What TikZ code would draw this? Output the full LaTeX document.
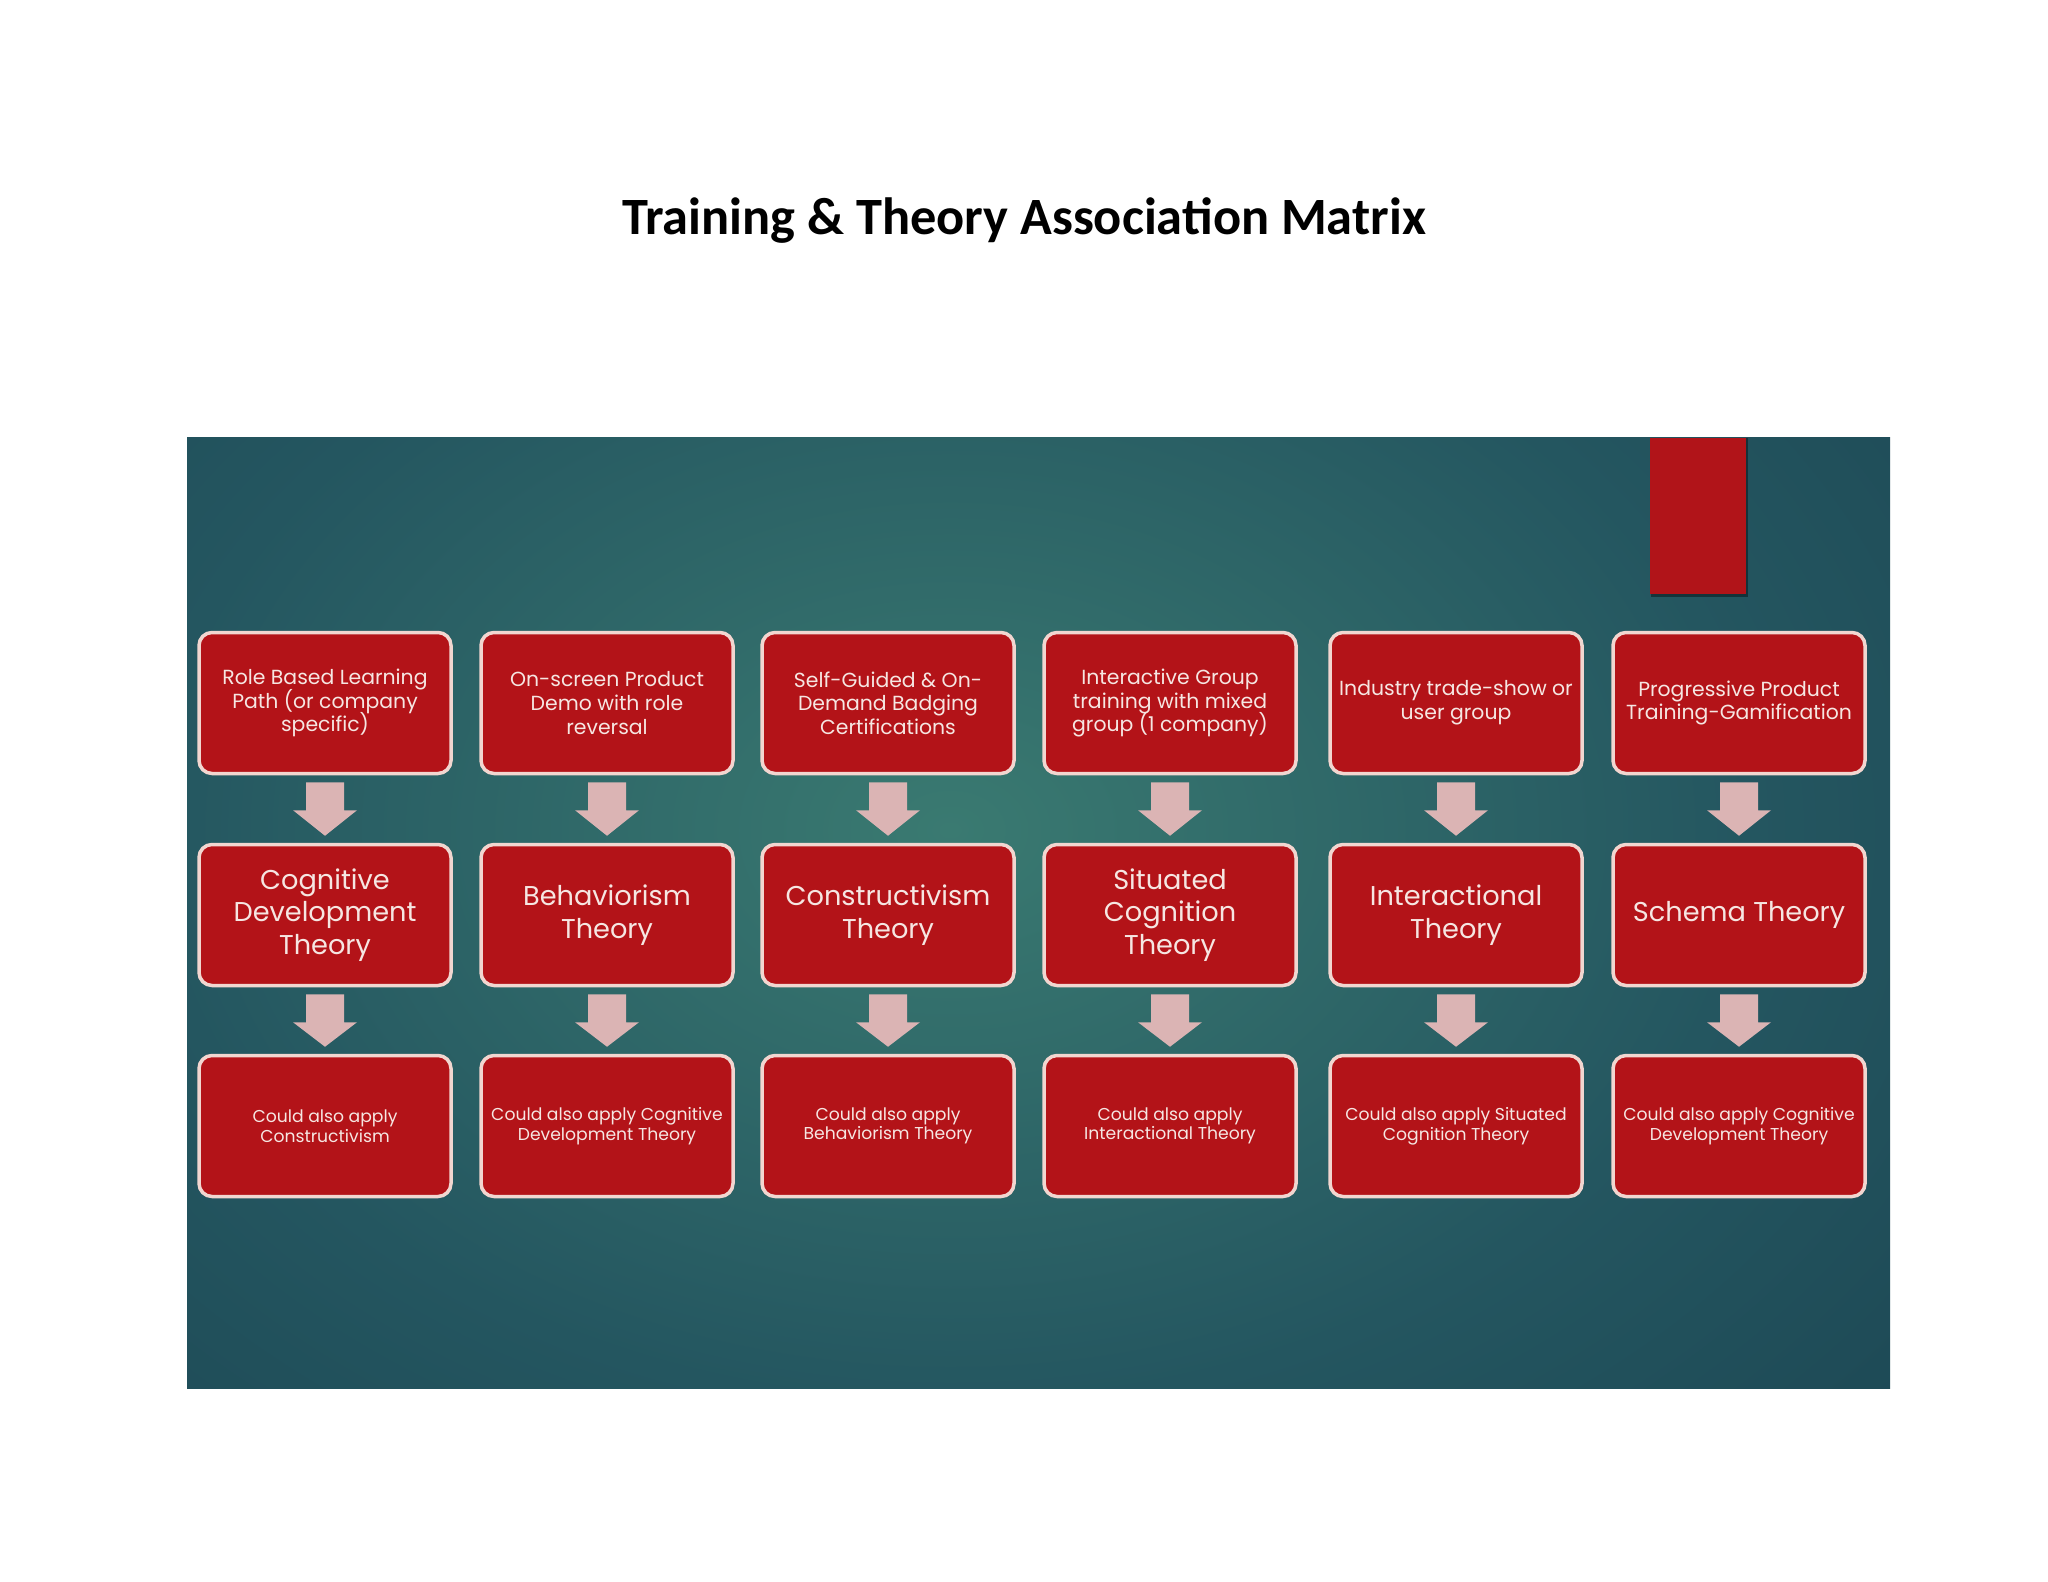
\documentclass[tikz,border=0pt]{standalone}
\usepackage{fontspec}
\setmainfont{Poppins}
\newfontfamily\titlefont{Carlito}
\usetikzlibrary{calc}
\definecolor{bgdark}{HTML}{163B4A}
\definecolor{bgmid}{HTML}{245660}
\definecolor{bglight}{HTML}{3A7A71}
\definecolor{boxred}{HTML}{B31318}
\definecolor{boxedge}{HTML}{F2D6D0}
\definecolor{boxtext}{HTML}{F6E6E2}
\definecolor{arrowc}{HTML}{DBB4B4}
\definecolor{tabred}{HTML}{B11419}
\newcommand{\tightlines}{\lineskiplimit=-20pt\relax\lineskip=0pt\relax}
\pgfdeclareradialshading{bgshade}{\pgfpoint{0bp}{0bp}}{color(0bp)=(bglight); color(10bp)=(bgmid); color(22bp)=(bgdark); color(50bp)=(bgdark)}
\tikzset{
  card/.style={draw=boxedge, line width=1.75pt, fill=boxred, rounded corners=6.5pt,
    minimum width=126pt, minimum height=70.5pt, align=center, text=boxtext, inner sep=2pt},
  toprow/.style={card, font={\fontsize{10.2}{11.8}\selectfont\tightlines}},
  midrow/.style={card, font={\fontsize{13.6}{16.3}\selectfont\tightlines}},
  botrow/.style={card, font={\fontsize{8.6}{9.8}\selectfont\tightlines}},
}
\newcommand{\blockarrow}[2]{%
  \fill[arrowc] ($(#1.south)+(-19,7)$) -- ($(#1.south)+(19,7)$) -- ($(#1.south)+(19,35)$)
    -- ($(#1.south)+(32,35)$) -- ($(#2.north)+(0,-7)$) -- ($(#1.south)+(-32,35)$)
    -- ($(#1.south)+(-19,35)$) -- cycle;}
\begin{document}
\begin{tikzpicture}[x=0.5pt, y=-0.5pt]
\useasboundingbox[fill=white] (0,0) rectangle (2048,1582);
% title
\node[anchor=base, font=\titlefont\bfseries\fontsize{26.2}{30}\selectfont] (title) at (1024,235) {Training \& Theory Association Matrix};
% slide background
\begin{scope}
  \clip (187,438) rectangle (1890,1388);
  \fill[bgdark] (187,438) rectangle (1890,1388);
  \shade[shading=bgshade] (950,830) ellipse [x radius=1000pt, y radius=720pt];
\end{scope}
% red tab
\fill[black!70!bgdark, opacity=0.5] (1651,438) rectangle (1748,597);
\fill[tabred] (1650,438) rectangle (1746,594);
% row 1
\node[toprow] (t1) at (325,703) {Role Based Learning\\Path (or company\\specific)};
\node[toprow] (t2) at (607,703) {On-screen Product\\Demo with role\\reversal};
\node[toprow] (t3) at (888,703) {Self-Guided \& On-\\Demand Badging\\Certifications};
\node[toprow] (t4) at (1170,703) {Interactive Group\\training with mixed\\group (1 company)};
\node[toprow] (t5) at (1456,703) {Industry trade-show or\\user group};
\node[toprow] (t6) at (1739,703) {Progressive Product\\Training-Gamification};
% row 2
\node[midrow] (m1) at (325,915) {Cognitive\\Development\\Theory};
\node[midrow] (m2) at (607,915) {Behaviorism\\Theory};
\node[midrow] (m3) at (888,915) {Constructivism\\Theory};
\node[midrow] (m4) at (1170,915) {Situated\\Cognition\\Theory};
\node[midrow] (m5) at (1456,915) {Interactional\\Theory};
\node[midrow] (m6) at (1739,915) {Schema Theory};
% row 3
\node[botrow] (b1) at (325,1126) {Could also apply\\Constructivism};
\node[botrow] (b2) at (607,1126) {Could also apply Cognitive\\Development Theory};
\node[botrow] (b3) at (888,1126) {Could also apply\\Behaviorism Theory};
\node[botrow] (b4) at (1170,1126) {Could also apply\\Interactional Theory};
\node[botrow] (b5) at (1456,1126) {Could also apply Situated\\Cognition Theory};
\node[botrow] (b6) at (1739,1126) {Could also apply Cognitive\\Development Theory};
% arrows
\foreach \i in {1,...,6}{
  \blockarrow{t\i}{m\i}
  \blockarrow{m\i}{b\i}
}
\end{tikzpicture}
\end{document}
